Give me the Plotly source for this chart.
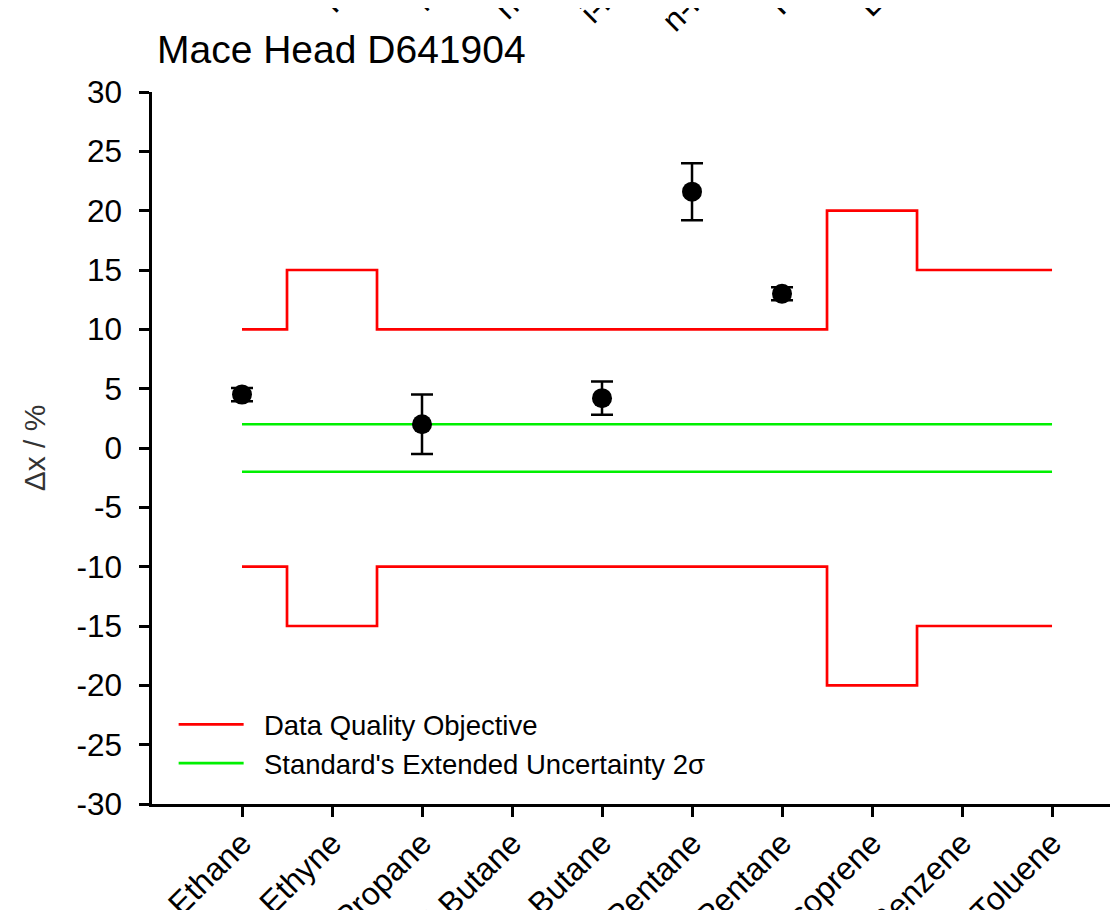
import plotly.graph_objects as go

categories = ["Ethane", "Ethyne", "Propane", "i-Butane", "n-Butane",
              "i-Pentane", "n-Pentane", "Isoprene", "Benzene", "Toluene"]
deviation = [4.5, None, 2.0, None, 4.2, 21.6, 13.0, None, None, None]
deviation_err = [0.55, None, 2.5, None, 1.4, 2.4, 0.55, None, None, None]
dqo_upper = [10, 15, 10, 10, 10, 10, 10, 20, 15, 15]
dqo_lower = [-10, -15, -10, -10, -10, -10, -10, -20, -15, -15]
unc_upper = [2, 2, 2, 2, 2, 2, 2, 2, 2, 2]
unc_lower = [-2, -2, -2, -2, -2, -2, -2, -2, -2, -2]
y_ticks = [30, 25, 20, 15, 10, 5, 0, -5, -10, -15, -20, -25, -30]
# labels of the chart above, of which only the lower ends show at the top edge
above_labels = ["Propane", "i-Butane", "n-Butane", "i-Pentane",
                "n-Pentane", "Isoprene", "Benzene"]

FONT = "Liberation Sans, Arial, sans-serif"
RED = "#ff0000"
GREEN = "#00f000"

fig = go.Figure()

fig.add_trace(go.Scatter(x=categories, y=dqo_upper, mode="lines", line_shape="hvh",
                         line=dict(color=RED, width=2.7),
                         name="\u00a0\u00a0Data Quality Objective",
                         legendgroup="dqo", showlegend=True))
fig.add_trace(go.Scatter(x=categories, y=dqo_lower, mode="lines", line_shape="hvh",
                         line=dict(color=RED, width=2.7), name="Data Quality Objective",
                         legendgroup="dqo", showlegend=False))
fig.add_trace(go.Scatter(x=categories, y=unc_upper, mode="lines",
                         line=dict(color=GREEN, width=2.7),
                         name="\u00a0\u00a0Standard's Extended Uncertainty 2σ",
                         legendgroup="unc", showlegend=True))
fig.add_trace(go.Scatter(x=categories, y=unc_lower, mode="lines",
                         line=dict(color=GREEN, width=2.7),
                         name="Standard's Extended Uncertainty 2σ",
                         legendgroup="unc", showlegend=False))
fig.add_trace(go.Scatter(x=categories, y=deviation, mode="markers",
                         marker=dict(color="black", size=20, symbol="circle"),
                         error_y=dict(type="data", array=deviation_err, visible=True,
                                      color="black", thickness=2.5, width=11),
                         showlegend=False, name="Δx"))

annotations = [
    dict(text=lab, x=lab, xref="x", y=1.262, yref="paper",
         xanchor="right", yanchor="top", textangle=-45, showarrow=False,
         xshift=6, font=dict(size=32, color="black", family=FONT))
    for lab in above_labels
]

fig.update_layout(
    width=1110, height=902,
    margin=dict(l=144, r=0, t=84, b=106),
    paper_bgcolor="white", plot_bgcolor="white",
    font=dict(family=FONT, color="black"),
    title=dict(text="Mace Head D641904", font=dict(size=39, color="black"),
               x=149 / 1110, xanchor="left", xref="container",
               y=1 - 41.5 / 902, yanchor="middle", yref="container"),
    legend=dict(x=0.0224, y=0.146, xanchor="left", yanchor="top",
                bgcolor="rgba(0,0,0,0)", font=dict(size=27.5, color="black"),
                itemwidth=65, tracegroupgap=0),
    showlegend=True,
    annotations=annotations,
)

fig.update_xaxes(
    type="category", categoryorder="array", categoryarray=categories,
    range=[-1, 9.733], tickvals=categories, ticktext=categories,
    showline=True, linecolor="black", linewidth=2.5, mirror=False,
    ticks="outside", ticklen=10, tickwidth=2.5, tickcolor="black",
    tickangle=-45, tickfont=dict(size=32, color="black", family=FONT),
    ticklabelstandoff=-5,
    showgrid=False, zeroline=False, automargin=False,
)
fig.update_yaxes(
    range=[-30, 30], tickvals=y_ticks, ticktext=[str(v) for v in y_ticks],
    showline=True, linecolor="black", linewidth=2.5, mirror=False,
    ticks="outside", ticklen=10, tickwidth=2.5, tickcolor="black",
    tickfont=dict(size=31.5, color="black", family=FONT),
    ticklabelstandoff=11,
    title=dict(text="Δx / %", font=dict(size=30, color="#333333", family=FONT), standoff=22),
    showgrid=False, zeroline=False, automargin=False,
)

fig.write_html("out.html")
